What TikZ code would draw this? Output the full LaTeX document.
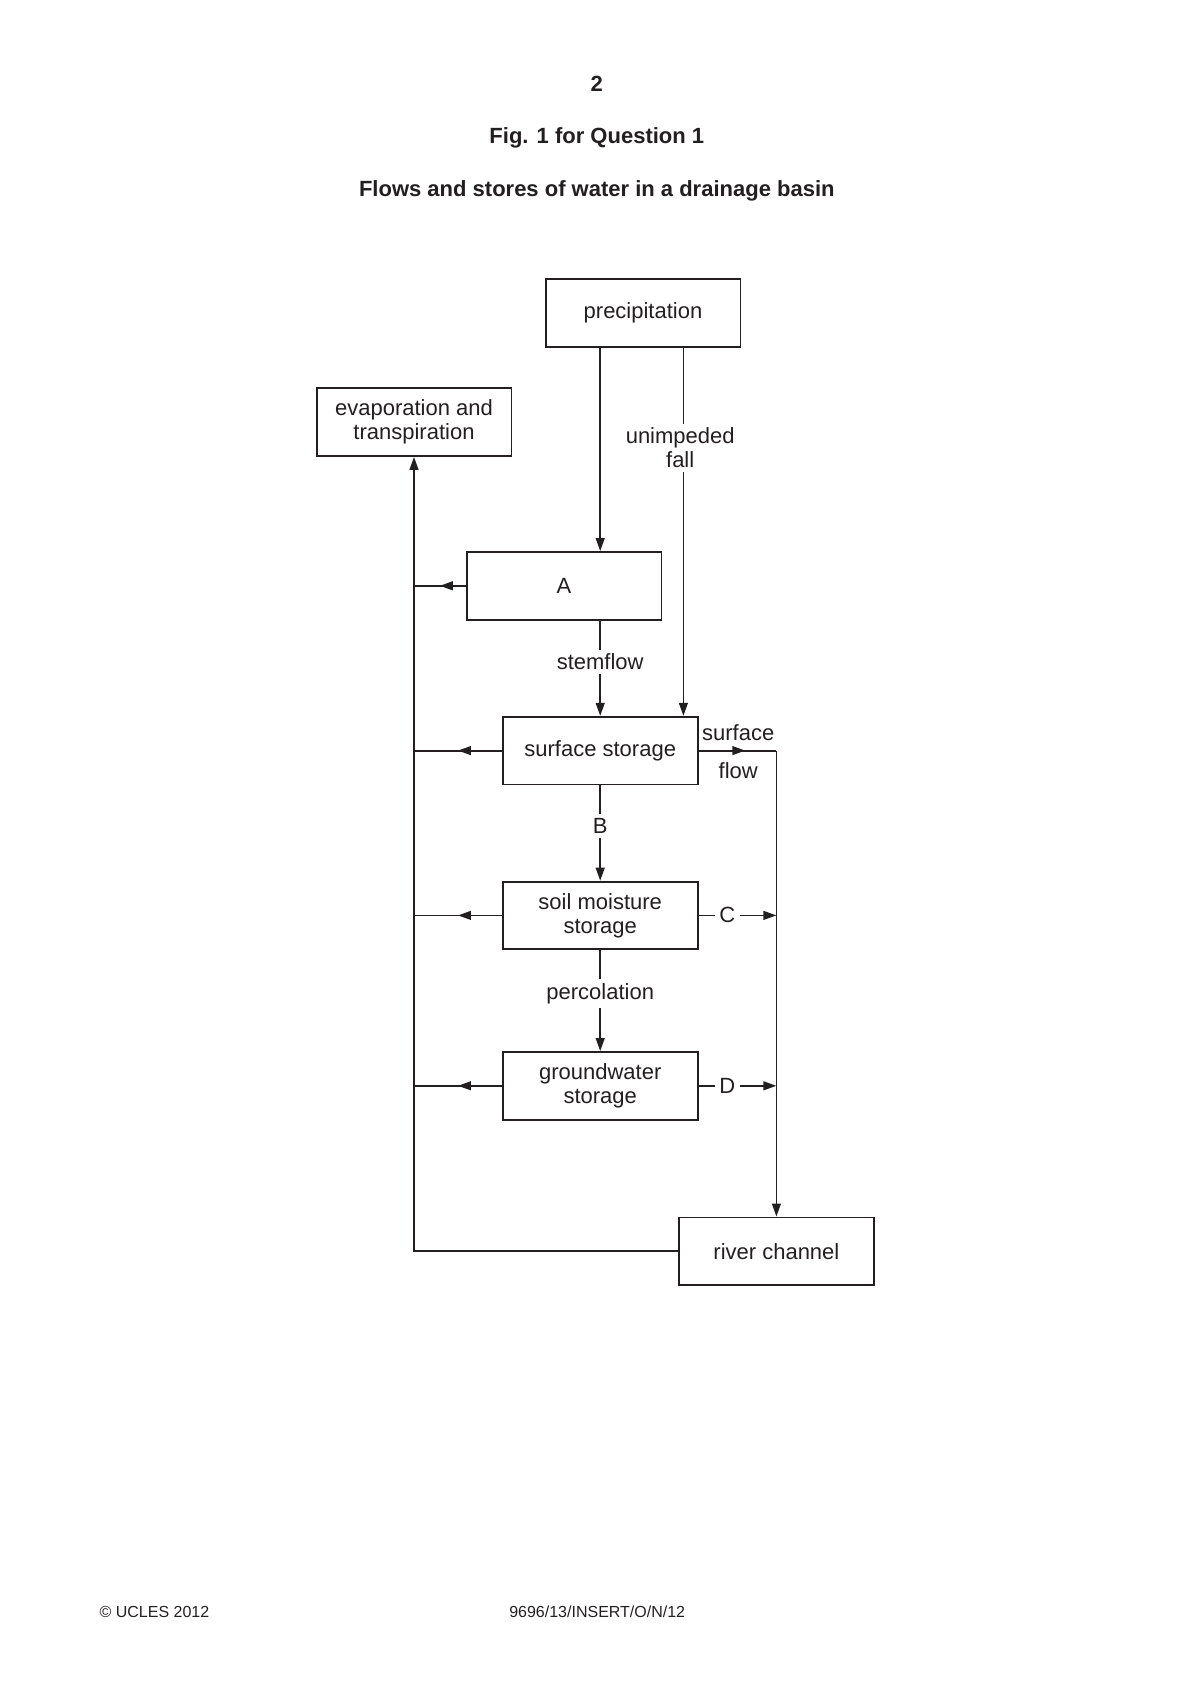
\documentclass[tikz,border=0pt]{standalone}
\usepackage{fontspec}
\setmainfont{Liberation Sans}
\usetikzlibrary{arrows.meta, decorations.markings, calc}
\definecolor{ink}{RGB}{35,31,32}

\begin{document}
\begin{tikzpicture}[x=1pt, y=-1pt,
					every node/.style={text=ink, font=\fontsize{11}{12}\selectfont, align=center},
					store/.style={draw=ink, line width=0.9pt, minimum width=97.4pt, minimum height=33.8pt, inner sep=2pt},
					flow/.style={draw=ink, line width=0.9pt},
					tip/.style={-{Triangle[length=6.5pt,width=4.4pt]}},
					midtip/.style={decoration={markings, mark=at position #1 with {\arrow{Triangle[length=6.5pt,width=4.4pt]}}}, postaction={decorate}},
					lbl/.style={inner sep=2pt}
					]
					\useasboundingbox (0,0) rectangle (595,842);
					\node (pagenum) at (298.4,41.7) {\bfseries 2};
					\node (figno) at (298.4,68.7) {\bfseries Fig. 1 for Question 1};
					\node (title) at (298.4,95.2) {\bfseries Flows and stores of water in a drainage basin};
					\node[store] (precip) at (321.5,156.6) {precipitation};
					\node[store] (evap) at (207.0,211.1) {evaporation and\\transpiration};
					\node[store] (A) at (282.0,292.9) {A};
					\node[store] (surf) at (300.1,375.3) {surface storage};
					\node[store] (soil) at (300.1,457.7) {soil moisture\\storage};
					\node[store] (ground) at (300.1,542.9) {groundwater\\storage};
					\node[store] (river) at (388.2,625.6) {river channel};
					\node[lbl] (ufall) at (340.1,224.0) {unimpeded\\fall};
					\node[lbl] (stem) at (300.1,331.0) {stemflow};
					\node[lbl] (B) at (300.1,413.1) {B};
					\node[lbl] (perc) at (300.1,496.9) {percolation};
					\node[lbl] (C) at (363.7,457.7) {C};
					\node[lbl] (D) at (363.7,542.9) {D};
					\node (sfup) at (369.1,366.4) {surface};
					\node (sfdown) at (369.1,385.2) {flow};
					\coordinate (ufx) at (341.7,0);
					\coordinate (sfj) at (surf.east -| river.north);
					\draw[flow, tip] (precip.south -| surf.north) -- (surf.north |- A.north);
					\draw[flow] (precip.south -| ufx) -- (ufall.north -| ufx);
					\draw[flow, tip] (ufall.south -| ufx) -- (surf.north -| ufx);
					\draw[flow] (surf.north |- A.south) -- (stem);
					\draw[flow, tip] (stem) -- (surf);
					\draw[flow] (surf) -- (B);
					\draw[flow, tip] (B) -- (soil);
					\draw[flow] (soil) -- (perc);
					\draw[flow, tip] (perc) -- (ground);
					\foreach \s in {A, surf, soil, ground}
						\draw[flow, midtip=0.5] (\s.west) -- (\s.west -| evap.south);
					\draw[flow, tip] (river.west) -| (evap.south);
					\draw[flow, midtip=0.6] (surf.east) -- (sfj);
					\draw[flow, tip] (sfj) -- (river.north);
					\draw[flow] (soil) -- (C);
					\draw[flow, tip] (C) -- (C -| river.north);
					\draw[flow] (ground) -- (D);
					\draw[flow, tip] (D) -- (D -| river.north);
					\node[anchor=west, font=\fontsize{8}{9}\selectfont] (copy) at (46.3,806.1) {© UCLES 2012};
					\node[font=\fontsize{8}{9}\selectfont] (code) at (298.6,806.1) {9696/13/INSERT/O/N/12};
				\end{tikzpicture}
\end{document}
